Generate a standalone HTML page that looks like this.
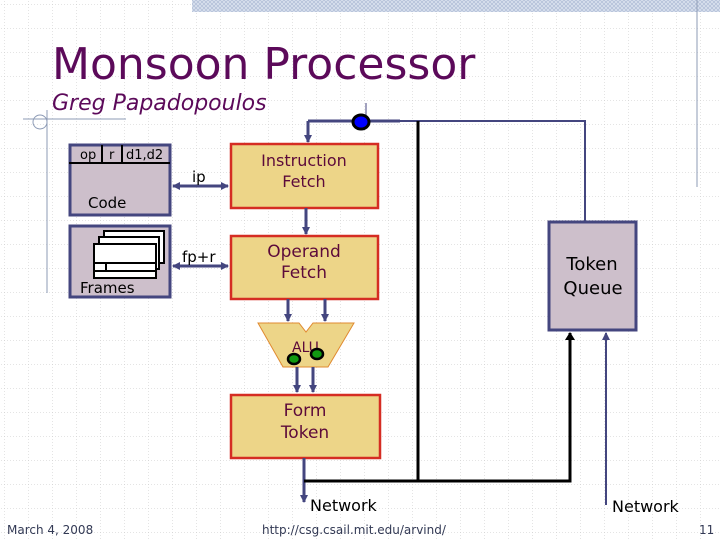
<!DOCTYPE html>
<html><head><meta charset="utf-8"><style>
html,body{margin:0;padding:0;background:#fff}
svg{display:block}
text{font-family:"DejaVu Sans","Liberation Sans",sans-serif}
</style></head><body>
<svg width="720" height="540" viewBox="0 0 720 540" xmlns="http://www.w3.org/2000/svg">
<defs>
<pattern id="g" width="24" height="24" patternUnits="userSpaceOnUse" x="4" y="4">
<path d="M0 0H24M0 0V24" stroke="#c8c8c8" stroke-width="1" stroke-dasharray="1,2" fill="none"/>
</pattern>
<pattern id="h" width="4" height="4" patternUnits="userSpaceOnUse">
<rect width="4" height="4" fill="#dfe6f2"/><path d="M0 0L4 4M4 0L0 4" stroke="#b7c3da" stroke-width="1"/>
</pattern>
<marker id="a" markerWidth="8" markerHeight="8" refX="7" refY="4" orient="auto" markerUnits="userSpaceOnUse"><path d="M0 0L8 4L0 8z" fill="#44467f"/></marker>
<marker id="as" markerWidth="8" markerHeight="8" refX="1" refY="4" orient="auto" markerUnits="userSpaceOnUse"><path d="M8 0L0 4L8 8z" fill="#44467f"/></marker>
<marker id="ak" markerWidth="8" markerHeight="10" refX="7" refY="5" orient="auto" markerUnits="userSpaceOnUse"><path d="M0 0L8 5L0 10z" fill="#000"/></marker>
</defs>
<rect width="720" height="540" fill="url(#g)"/>
<rect x="192" y="0" width="528" height="12" fill="url(#h)"/>
<line x1="697" y1="0" x2="697" y2="187" stroke="#8d9bb6" stroke-width="1"/>
<text x="52" y="79" font-size="44" fill="#5c0a5a">Monsoon Processor</text>
<text x="52" y="110" font-size="22" font-style="italic" fill="#5c0a5a">Greg Papadopoulos</text>
<line x1="23" y1="119" x2="126" y2="119" stroke="#8d9bb6"/>
<line x1="47" y1="110" x2="47" y2="293" stroke="#8d9bb6"/>
<circle cx="40" cy="122" r="7" fill="none" stroke="#8d9bb6"/>

<!-- Code -->
<rect x="70" y="145" width="100" height="70" fill="#cdbfcb" stroke="#44467f" stroke-width="3"/>
<line x1="69" y1="163" x2="170" y2="163" stroke="#000" stroke-width="2"/>
<line x1="102" y1="145" x2="102" y2="163" stroke="#000" stroke-width="2"/>
<line x1="122" y1="145" x2="122" y2="163" stroke="#000" stroke-width="2"/>
<text x="80" y="159" font-size="13" fill="#000">op</text>
<text x="109" y="159" font-size="13" fill="#000">r</text>
<text x="126" y="159" font-size="13" fill="#000">d1,d2</text>
<text x="88" y="208" font-size="15" fill="#000">Code</text>
<!-- Frames -->
<rect x="70" y="226" width="100" height="71" fill="#cdbfcb" stroke="#44467f" stroke-width="3"/>
<rect x="104" y="231" width="60" height="32" fill="#fff" stroke="#000" stroke-width="2"/>
<rect x="99" y="237" width="60" height="32" fill="#fff" stroke="#000" stroke-width="2"/>
<rect x="94" y="244" width="62" height="34" fill="#fff" stroke="#000" stroke-width="2"/>
<line x1="94" y1="263" x2="156" y2="263" stroke="#000" stroke-width="2"/>
<line x1="94" y1="271" x2="156" y2="271" stroke="#000" stroke-width="2"/>
<line x1="106" y1="263" x2="106" y2="271" stroke="#000" stroke-width="2"/>
<text x="80" y="293" font-size="15" fill="#000">Frames</text>

<!-- IF / OF -->
<rect x="231" y="144" width="147" height="64" fill="#edd588" stroke="#d52d23" stroke-width="2.5"/>
<text x="304" y="166" font-size="16" text-anchor="middle" fill="#5c0a3a">Instruction</text>
<text x="304" y="187" font-size="16" text-anchor="middle" fill="#5c0a3a">Fetch</text>
<rect x="231" y="236" width="147" height="63" fill="#edd588" stroke="#d52d23" stroke-width="2.5"/>
<text x="304" y="257" font-size="17" text-anchor="middle" fill="#5c0a3a">Operand</text>
<text x="304" y="278" font-size="17" text-anchor="middle" fill="#5c0a3a">Fetch</text>

<line x1="173" y1="186" x2="228" y2="186" stroke="#44467f" stroke-width="3" marker-start="url(#as)" marker-end="url(#a)"/>
<text x="192" y="182" font-size="15" fill="#000">ip</text>
<line x1="173" y1="266" x2="228" y2="266" stroke="#44467f" stroke-width="3" marker-start="url(#as)" marker-end="url(#a)"/>
<text x="182" y="262" font-size="15" fill="#000">fp+r</text>
<line x1="306" y1="208" x2="306" y2="234" stroke="#44467f" stroke-width="3" marker-end="url(#a)"/>

<!-- top loop -->
<line x1="308" y1="121" x2="400" y2="121" stroke="#44467f" stroke-width="3"/>
<polyline points="400,121 585,121 585,221" fill="none" stroke="#44467f" stroke-width="2"/>
<line x1="308" y1="121" x2="308" y2="142" stroke="#44467f" stroke-width="3" marker-end="url(#a)"/>
<line x1="366" y1="103" x2="366" y2="120" stroke="#44467f" stroke-width="1"/>
<ellipse cx="361" cy="122" rx="8" ry="7" fill="#0000ff" stroke="#000" stroke-width="3"/>
<line x1="418" y1="121" x2="418" y2="481" stroke="#000" stroke-width="3"/>

<!-- Token queue -->
<rect x="549" y="222" width="87" height="108" fill="#cdbfcb" stroke="#44467f" stroke-width="3"/>
<text x="592" y="270" font-size="18" text-anchor="middle" fill="#000">Token</text>
<text x="593" y="294" font-size="18" text-anchor="middle" fill="#000">Queue</text>

<!-- ALU -->
<line x1="288" y1="299" x2="288" y2="321" stroke="#44467f" stroke-width="3" marker-end="url(#a)"/>
<line x1="325" y1="299" x2="325" y2="321" stroke="#44467f" stroke-width="3" marker-end="url(#a)"/>
<polygon points="258,323 299,323 306,332 313,323 354,323 328,367 283,367" fill="#edd588" stroke="#e08a30" stroke-width="1"/>
<text x="292" y="352" font-size="14" fill="#5c0a3a">ALU</text>
<ellipse cx="294" cy="359" rx="6" ry="5" fill="#119911" stroke="#000" stroke-width="2.5"/>
<ellipse cx="317" cy="354" rx="6" ry="5" fill="#119911" stroke="#000" stroke-width="2.5"/>
<line x1="297" y1="367" x2="297" y2="392" stroke="#44467f" stroke-width="3" marker-end="url(#a)"/>
<line x1="313" y1="367" x2="313" y2="392" stroke="#44467f" stroke-width="3" marker-end="url(#a)"/>

<rect x="231" y="395" width="149" height="63" fill="#edd588" stroke="#d52d23" stroke-width="2.5"/>
<text x="305" y="416" font-size="17" text-anchor="middle" fill="#5c0a3a">Form</text>
<text x="305" y="438" font-size="17" text-anchor="middle" fill="#5c0a3a">Token</text>

<line x1="304" y1="458" x2="304" y2="502" stroke="#44467f" stroke-width="3" marker-end="url(#a)"/>
<polyline points="304,481 570,481 570,333" fill="none" stroke="#000" stroke-width="3" marker-end="url(#ak)"/>
<text x="310" y="511" font-size="16" fill="#000">Network</text>
<line x1="606" y1="505" x2="606" y2="333" stroke="#44467f" stroke-width="2" marker-end="url(#a)"/>
<text x="612" y="512" font-size="16" fill="#000">Network</text>

<text x="7" y="534" font-size="12" fill="#333a55">March 4, 2008</text>
<text x="262" y="534" font-size="12" fill="#333a55">http://csg.csail.mit.edu/arvind/</text>
<text x="699" y="534" font-size="12" fill="#333a55">11</text>
</svg>
</body></html>
